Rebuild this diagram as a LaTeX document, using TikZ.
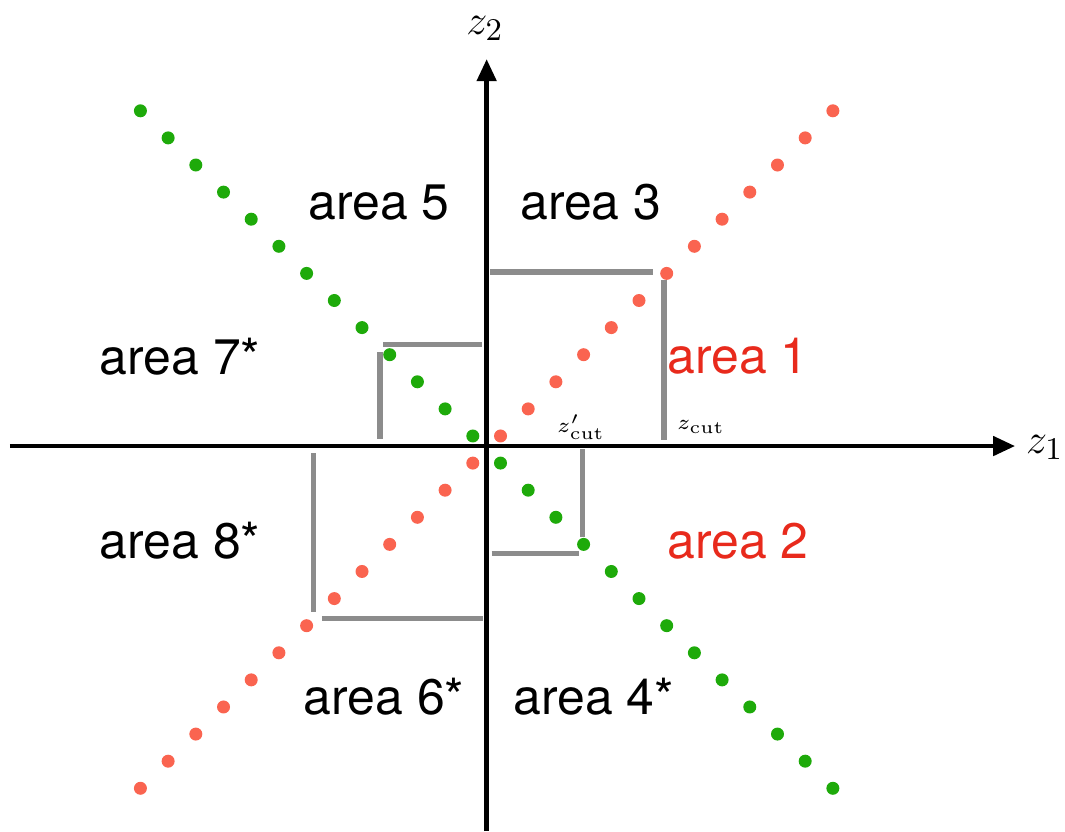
\documentclass[tikz,border=0pt]{standalone}
\usepackage{amsmath}
\usepackage[no-math]{fontspec}
\setmainfont{TeX Gyre Heros}
\usetikzlibrary{arrows.meta}
\definecolor{dotred}{HTML}{FA6450}
\definecolor{dotgreen}{HTML}{1EAA0A}
\definecolor{areared}{HTML}{E82A1C}
\definecolor{cutgray}{HTML}{8C8C8C}
\newcommand{\cutsub}{\mathrm{cut}}

\begin{document}
\begin{tikzpicture}[x=0.277cm,y=0.271cm,font=\fontsize{14.2}{16}\selectfont]
        \useasboundingbox (-17.57,-14.21) rectangle (20.88,16.46);
        % cut boxes
        \draw[cutgray,line width=1.5pt] (0.12,6.42) -- (6.01,6.42);
        \draw[cutgray,line width=1.5pt] (6.40,6.13) -- (6.40,0.22);
        \draw[cutgray,line width=1.5pt] (-3.74,3.75) -- (-0.18,3.75);
        \draw[cutgray,line width=1.5pt] (-3.85,3.47) -- (-3.85,0.26);
        \draw[cutgray,line width=1.5pt] (3.47,-0.11) -- (3.47,-3.35);
        \draw[cutgray,line width=1.5pt] (0.18,-3.96) -- (3.33,-3.96);
        \draw[cutgray,line width=1.5pt] (-6.26,-0.26) -- (-6.26,-6.11);
        \draw[cutgray,line width=1.5pt] (-5.95,-6.36) -- (-0.12,-6.36);
        % axes
        \draw[line width=1.3pt,-{Triangle[length=0.22cm,width=0.19cm]}] (-17.21,0) -- (19.08,0);
        \draw[line width=1.3pt,-{Triangle[length=0.22cm,width=0.19cm]}] (0,-14.21) -- (0,14.28);
        \node[font=\fontsize{13}{15}\selectfont] (zone) at (20.15,-0.04) {$z_1$};
        \node[font=\fontsize{13}{15}\selectfont] (ztwo) at (-0.06,15.42) {$z_2$};
        \node[font=\fontsize{6.5}{8}\selectfont] (zcutp) at (3.41,0.70) {$z'_{\cutsub}$};
        \node[font=\fontsize{6.5}{8}\selectfont] (zcut) at (7.74,0.70) {$z_{\cutsub}$};
        % dots
        \begin{scope}[yshift=-0.035cm]
          \foreach \k in {0,...,12} {
            \fill[dotred] (\k+0.5,\k+0.5) circle (0.065cm);
            \fill[dotred] (-\k-0.5,-\k-0.5) circle (0.065cm);
            \fill[dotgreen] (-\k-0.5,\k+0.5) circle (0.065cm);
            \fill[dotgreen] (\k+0.5,-\k-0.5) circle (0.065cm);
          }
        \end{scope}
        % areas
        \node (areafive) at (-3.89,9.0) {area 5};
        \node (areathree) at (3.76,9.0) {area 3};
        \node (areaseven) at (-11.07,3.28) {area 7*};
        \node[areared] (areaone) at (9.07,3.32) {area 1};
        \node (areaeight) at (-11.07,-3.51) {area 8*};
        \node[areared] (areatwo) at (9.07,-3.51) {area 2};
        \node (areasix) at (-3.70,-9.26) {area 6*};
        \node (areafour) at (3.87,-9.26) {area 4*};
      \end{tikzpicture}
\end{document}
